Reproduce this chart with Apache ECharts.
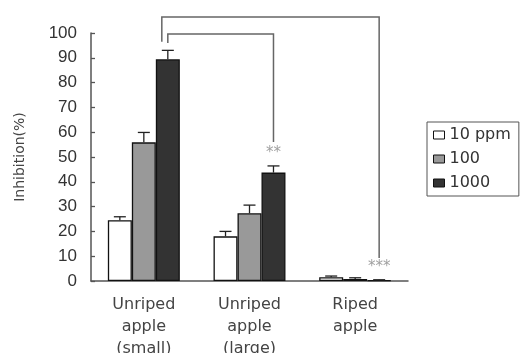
<!DOCTYPE html>
<html>
<head>
<meta charset="utf-8">
<script src="https://cdn.jsdelivr.net/npm/echarts@6/dist/echarts.min.js"></script>
<style>
  html, body { margin: 0; padding: 0; background: #fff; }
  #chart { width: 520px; height: 353px; }
</style>
</head>
<body>
<div id="chart"></div>
<script>
// Inhibition (%) of three apple extracts at three concentrations
const categories = ['Unriped\napple\n(small)', 'Unriped\napple\n(large)', 'Riped\napple'];
const seriesNames = ['10 ppm', '100', '1000'];
const values10 = [24.5, 18.0, 1.5];
const errors10 = [1.4, 2.0, 0.5];
const values100 = [55.9, 27.3, 0.8];
const errors100 = [4.0, 3.3, 0.5];
const values1000 = [89.4, 43.7, 0.3];
const errors1000 = [3.6, 2.7, 0.2];
const yTicks = [0, 10, 20, 30, 40, 50, 60, 70, 80, 90, 100];

// Significance brackets between the 1000 ppm bars (values in axis units)
const bracketFrom = [0, 0];
const bracketTo = [2, 1];
const bracketTop = [106.5, 99.6];
const bracketLeftEnd = [96.5, 96];
const bracketRightEnd = [9.3, 56];
const bracketStarAt = [5.6, 51.6];
const bracketLabels = ['***', '**'];

const fills = ['#ffffff', '#999999', '#333333'];
const allValues = [values10, values100, values1000];
const allErrors = [errors10, errors100, errors1000];
const BAR_FRACTION = 0.227; // bar width relative to category band

const chart = echarts.init(document.getElementById('chart'), null, { renderer: 'canvas' });

function barOffset(api, seriesIdx) {
  const band = api.size([1, 0])[0];
  return (seriesIdx - 1) * band * BAR_FRACTION;
}

const barSeries = seriesNames.map((name, i) => ({
  name: name,
  type: 'bar',
  barWidth: (BAR_FRACTION * 100) + '%',
  barGap: '0%',
  data: allValues[i],
  itemStyle: { color: fills[i], borderColor: '#111', borderWidth: 1.3 },
  z: 2
}));

const errorSeries = seriesNames.map((name, i) => ({
  type: 'custom',
  silent: true,
  z: 3,
  data: allValues[i].map((v, k) => [k, v, v + allErrors[i][k]]),
  renderItem: function (params, api) {
    const base = api.coord([api.value(0), api.value(1)]);
    const top = api.coord([api.value(0), api.value(2)]);
    const x = base[0] + barOffset(api, i);
    const cap = 6;
    return {
      type: 'group',
      children: [
        { type: 'line', shape: { x1: x, y1: base[1], x2: x, y2: top[1] }, style: { stroke: '#222', lineWidth: 1.3 } },
        { type: 'line', shape: { x1: x - cap, y1: top[1], x2: x + cap, y2: top[1] }, style: { stroke: '#222', lineWidth: 1.3 } }
      ]
    };
  }
}));

const bracketSeries = {
  type: 'custom',
  silent: true,
  clip: false,
  z: 4,
  data: bracketFrom.map((f, k) => [f, bracketTo[k], bracketTop[k], bracketLeftEnd[k], bracketRightEnd[k], bracketStarAt[k]]),
  renderItem: function (params, api) {
    const k = params.dataIndex;
    const nudge = k === 0 ? -6 : 0; // outer bracket sits just left of the inner one
    const x1 = api.coord([api.value(0), 0])[0] + barOffset(api, 2) + nudge;
    const x2 = api.coord([api.value(1), 0])[0] + barOffset(api, 2);
    const yTop = api.coord([0, api.value(2)])[1];
    const yL = api.coord([0, api.value(3)])[1];
    const yR = api.coord([0, api.value(4)])[1];
    const yS = api.coord([0, api.value(5)])[1];
    return {
      type: 'group',
      children: [
        { type: 'polyline', shape: { points: [[x1, yL], [x1, yTop], [x2, yTop], [x2, yR]] },
          style: { stroke: '#666', lineWidth: 1.5, fill: null } },
        { type: 'text', x: x2, y: yS,
          style: { text: bracketLabels[k], fill: '#a0a0a0', font: '15px "DejaVu Sans"', align: 'center', verticalAlign: 'middle' } }
      ]
    };
  }
};

chart.setOption({
  animation: false,
  backgroundColor: '#ffffff',
  textStyle: { fontFamily: '"DejaVu Sans"' },
  grid: { left: 91, right: 112, top: 33, bottom: 72, containLabel: false, outerBoundsMode: 'none' },
  legend: {
    data: seriesNames,
    orient: 'vertical',
    left: 427,
    top: 122,
    padding: [5, 8, 5, 6],
    itemGap: 8,
    itemWidth: 11,
    itemHeight: 8,
    icon: 'rect',
    borderColor: '#555',
    borderWidth: 1,
    textStyle: { fontSize: 16, color: '#333', fontFamily: '"DejaVu Sans"' },
    itemStyle: { borderColor: '#111', borderWidth: 1 }
  },
  xAxis: {
    type: 'category',
    data: categories,
    axisLine: { lineStyle: { color: '#555', width: 1.5 } },
    axisTick: { show: false },
    axisLabel: { color: '#444', fontSize: 16, lineHeight: 22, margin: 13, interval: 0, fontFamily: '"DejaVu Sans"' }
  },
  yAxis: {
    type: 'value',
    min: yTicks[0],
    max: yTicks[yTicks.length - 1],
    interval: yTicks[1] - yTicks[0],
    name: 'Inhibition(%)',
    nameLocation: 'middle',
    nameGap: 64,
    nameTextStyle: { fontSize: 14, color: '#444', fontFamily: '"DejaVu Sans"' },
    axisLine: { show: true, lineStyle: { color: '#555', width: 1.5 } },
    axisTick: { show: true, inside: true, length: 4, lineStyle: { color: '#555', width: 1.3 } },
    axisLabel: { color: '#333', fontSize: 17, margin: 14, fontFamily: '"Liberation Sans"' },
    splitLine: { show: false }
  },
  series: [...barSeries, ...errorSeries, bracketSeries]
});
</script>
</body>
</html>
